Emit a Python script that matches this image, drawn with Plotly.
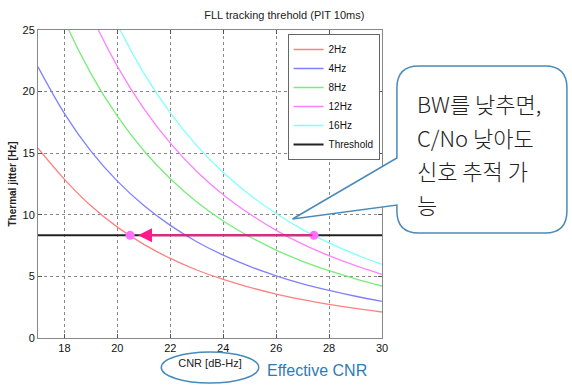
import plotly.graph_objects as go

# ---- data ----
cnr = [17, 18, 19, 20, 21, 22, 23, 24, 25, 26, 27, 28, 29, 30]
jit_2hz = [15.4, 12.88, 10.73, 9.00, 7.60, 6.46, 5.52, 4.75, 4.11, 3.57, 3.11, 2.73, 2.40, 2.11]
jit_4hz = [22.01, 18.22, 15.17, 12.73, 10.75, 9.14, 7.81, 6.72, 5.81, 5.05, 4.40, 3.86, 3.39, 2.98]
jit_8hz = [31.12, 25.76, 21.46, 18.00, 15.20, 12.92, 11.04, 9.50, 8.22, 7.14, 6.22, 5.46, 4.80, 4.22]
jit_12hz = [38.11, 31.55, 26.28, 22.05, 18.62, 15.82, 13.52, 11.63, 10.07, 8.74, 7.62, 6.68, 5.87, 5.17]
jit_16hz = [44.01, 36.43, 30.35, 25.46, 21.50, 18.27, 15.61, 13.43, 11.63, 10.10, 8.80, 7.72, 6.78, 5.97]
threshold_x = [17, 30]
threshold_y = [8.33, 8.33]
marker_x = [20.48, 27.43]
marker_y = [8.33, 8.33]
series_names = ["2Hz", "4Hz", "8Hz", "12Hz", "16Hz"]
x_ticks = [18, 20, 22, 24, 26, 28, 30]
y_ticks = [0, 5, 10, 15, 20, 25]

colors = ["#ff8080", "#8080ff", "#77ee77", "#ff80ff", "#80ffff"]

W, H = 572, 385
L, R, T, B = 36, 382, 30, 338


def px(xp):
    return (xp - L) / (R - L)


def py(yp):
    return (B - yp) / (B - T)


fig = go.Figure()
for name, ys, c in zip(series_names, [jit_2hz, jit_4hz, jit_8hz, jit_12hz, jit_16hz], colors):
    fig.add_trace(go.Scatter(x=cnr, y=ys, mode="lines", name=name,
                             line=dict(color=c, width=1.3, shape="spline")))
fig.add_trace(go.Scatter(x=threshold_x, y=threshold_y, mode="lines", name="Threshold",
                         line=dict(color="#222222", width=2)))

# pink arrow from right crossing to left crossing
fig.add_annotation(x=20.78, y=threshold_y[0], ax=marker_x[1], ay=marker_y[1],
                   xref="x", yref="y", axref="x", ayref="y", text="",
                   showarrow=True, arrowhead=2, arrowsize=1.4, arrowwidth=2,
                   arrowcolor="#ff1a8c")
fig.add_trace(go.Scatter(x=marker_x, y=marker_y, mode="markers", showlegend=False,
                         marker=dict(color="#ff70ff", size=9)))

# callout box
r = 22
bl, bt, br, bb = 397, 66, 568, 233
pts = [
    ("M", (bl, bt + r)), ("Q", (bl, bt), (bl + r, bt)), ("L", (br - r, bt)),
    ("Q", (br, bt), (br, bt + r)), ("L", (br, bb - r)), ("Q", (br, bb), (br - r, bb)),
    ("L", (bl + r, bb)), ("Q", (bl, bb), (bl, bb - r)), ("L", (bl, 205)),
    ("L", (292, 219)), ("L", (bl, 158)),
]
path = ""
for seg in pts:
    cmd = seg[0]
    coords = " ".join(f"{px(p[0]):.5f},{py(p[1]):.5f}" for p in seg[1:])
    path += f"{cmd}{coords} "
path += "Z"
fig.add_shape(type="path", path=path, xref="paper", yref="paper",
              line=dict(color="#4a8ab8", width=1.5), fillcolor="white", layer="above")

ko_lines = ["BW를 낮추면,", "C/No 낮아도", "신호 추적 가", "능"]
for i, txt in enumerate(ko_lines):
    fig.add_annotation(x=px(415), y=py(103 + 33.5 * i), xref="paper", yref="paper",
                       text=txt, showarrow=False, xanchor="left", yanchor="middle",
                       font=dict(family="Noto Sans CJK KR", size=22, color="#222222",
                                 weight=300))

# ellipse around x-axis label
fig.add_shape(type="circle", xref="paper", yref="paper",
              x0=px(160), x1=px(258), y0=py(383), y1=py(352),
              line=dict(color="#4a8ab8", width=1.5))
fig.add_annotation(x=px(264), y=py(370), xref="paper", yref="paper", text="Effective CNR",
                   showarrow=False, xanchor="left", yanchor="middle",
                   font=dict(family="Liberation Sans", size=16, color="#2e7bb5"))

fig.update_layout(
    width=W, height=H,
    margin=dict(l=L, r=W - R, t=T, b=H - B),
    paper_bgcolor="white", plot_bgcolor="white",
    font=dict(family="Liberation Sans", color="#222222"),
    title=dict(text="FLL tracking threhold (PIT 10ms)", x=px(208), xanchor="center",
               y=1 - 15 / H, yanchor="middle", font=dict(size=11, color="#222222")),
    showlegend=True,
    legend=dict(x=px(287), y=py(34), xanchor="left", yanchor="top",
                bgcolor="white", bordercolor="#666666", borderwidth=1,
                font=dict(size=10, color="#111111")),
    xaxis=dict(range=[17, 30], tickvals=x_ticks, showgrid=True, gridcolor="#888888",
               griddash="dot", gridwidth=1, showline=True, linecolor="#888888",
               mirror="ticks", ticks="inside", ticklen=4, tickcolor="#555555",
               zeroline=False, tickfont=dict(size=11, color="#111111"),
               title=dict(text="CNR [dB-Hz]", font=dict(size=11), standoff=6)),
    yaxis=dict(range=[0, 25], tickvals=y_ticks, showgrid=True, gridcolor="#888888",
               griddash="dot", gridwidth=1, showline=True, linecolor="#888888",
               mirror="ticks", ticks="inside", ticklen=4, tickcolor="#555555",
               zeroline=False, tickfont=dict(size=11, color="#111111"),
               title=dict(text="<b>Thermal jitter [Hz]</b>", font=dict(size=10), standoff=4)),
)

fig.write_html("out.html")
